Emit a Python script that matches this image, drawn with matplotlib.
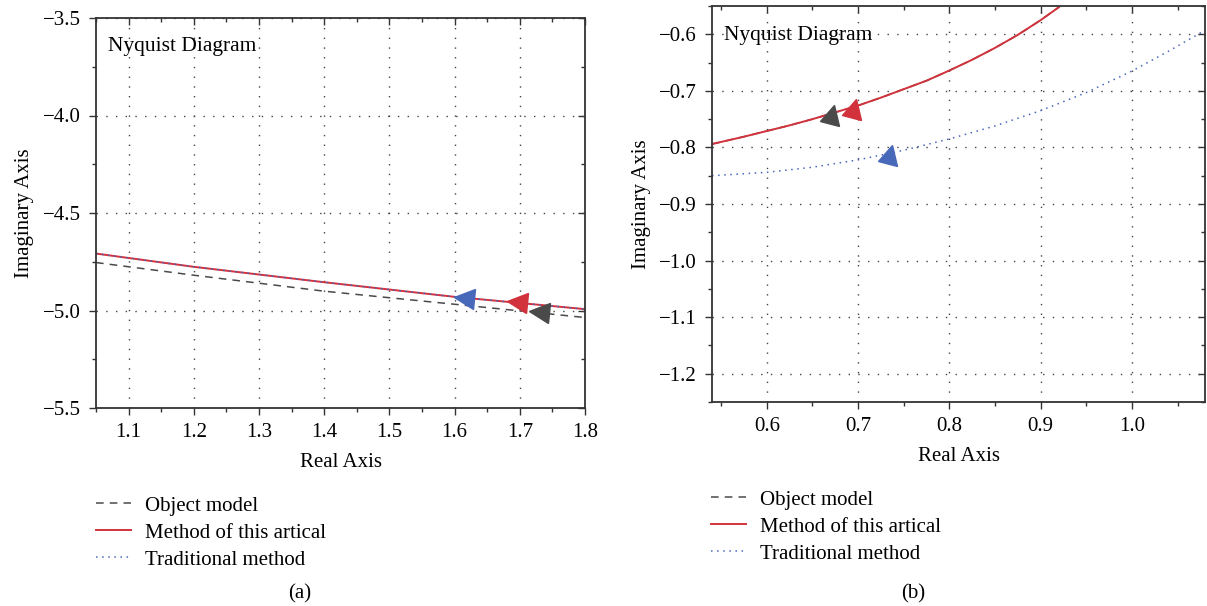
import numpy as np
import matplotlib
matplotlib.use("Agg")
import matplotlib.pyplot as plt
from matplotlib.markers import MarkerStyle
from matplotlib.transforms import Affine2D
from matplotlib.ticker import MultipleLocator, FuncFormatter

plt.rcParams["font.family"] = ["Liberation Serif", "DejaVu Serif"]

# ── data ───────────────────────────────────────────────────────────────────
# panel (a)
a_x_obj = [1.05, 1.2, 1.4, 1.6, 1.8]
a_y_obj = [-4.754, -4.819, -4.901, -4.968, -5.036]
a_x_new = [1.05, 1.2, 1.4, 1.6, 1.8]
a_y_new = [-4.708, -4.776, -4.855, -4.930, -4.993]
a_x_trad = a_x_new
a_y_trad = a_y_new
a_arrows = [(1.615, -4.935, "trad"), (1.695, -4.958, "new"), (1.73, -5.008, "obj")]

# panel (b)
b_x_new = [0.54, 0.575, 0.6, 0.625, 0.65, 0.675, 0.7, 0.725, 0.75, 0.775,
           0.8, 0.825, 0.85, 0.875, 0.9, 0.92]
b_y_new = [-0.794, -0.781, -0.771, -0.761, -0.750, -0.738, -0.726, -0.712, -0.697, -0.682,
           -0.664, -0.645, -0.624, -0.601, -0.575, -0.552]
b_x_obj = b_x_new
b_y_obj = b_y_new
b_x_trad = [0.54, 0.6, 0.65, 0.7, 0.75, 0.8, 0.85, 0.9, 0.95, 1.0, 1.04, 1.08]
b_y_trad = [-0.850, -0.844, -0.835, -0.822, -0.805, -0.785, -0.762, -0.735, -0.703, -0.665,
            -0.630, -0.593]
b_arrows = [(0.671, -0.741, "obj"), (0.695, -0.730, "new"), (0.735, -0.811, "trad")]

labels = {"obj": "Object model", "new": "Method of this artical", "trad": "Traditional method"}
colors = {"obj": "#4a4a4a", "new": "#d2323c", "trad": "#4869b9"}

FS = 15


def minus_fmt(v, pos):
    return f"{v:.1f}".replace("-", "\u2212")


def style_axes(ax, xmaj, xmin_, ymaj, ymin_):
    ax.xaxis.set_major_locator(MultipleLocator(xmaj))
    ax.xaxis.set_minor_locator(MultipleLocator(xmin_))
    ax.yaxis.set_major_locator(MultipleLocator(ymaj))
    ax.yaxis.set_minor_locator(MultipleLocator(ymin_))
    ax.xaxis.set_major_formatter(FuncFormatter(minus_fmt))
    ax.yaxis.set_major_formatter(FuncFormatter(minus_fmt))
    ax.tick_params(which="both", direction="out", labelsize=FS, color="#333333", pad=6)
    ax.tick_params(which="major", length=5, width=1)
    ax.tick_params(which="minor", length=3, width=1)
    # inward ticks on top and right
    top = ax.secondary_xaxis("top")
    right = ax.secondary_yaxis("right")
    for sec, axis in [(top, top.xaxis), (right, right.yaxis)]:
        axis.set_major_locator(MultipleLocator(xmaj if sec is top else ymaj))
        axis.set_minor_locator(MultipleLocator(xmin_ if sec is top else ymin_))
        sec.tick_params(which="both", direction="in", labelsize=0, color="#333333")
        sec.tick_params(which="major", length=5, width=1)
        sec.tick_params(which="minor", length=3, width=1)
        axis.set_major_formatter(FuncFormatter(lambda v, p: ""))
        for s in sec.spines.values():
            s.set_visible(False)
    for s in ax.spines.values():
        s.set_linewidth(1.3)
        s.set_color("#333333")
    ax.grid(True, which="major", linestyle=(0, (1, 6)), color="#444444", linewidth=1.0)
    ax.set_xlabel("Real Axis", fontsize=FS, labelpad=8)
    ax.set_ylabel("Imaginary Axis", fontsize=FS, labelpad=6)
    ax.text(0.025, 0.926, "Nyquist Diagram", transform=ax.transAxes,
            fontsize=15.5, va="center", ha="left")


def draw_panel(ax, xo, yo, xn, yn, xt, yt, arrows, angle):
    ax.plot(xo, yo, linestyle=(0, (5, 4)), color=colors["obj"], lw=1.1, label=labels["obj"])
    ax.plot(xn, yn, "-", color=colors["new"], lw=1.4, label=labels["new"])
    ax.plot(xt, yt, linestyle=(0, (1, 3)), color=colors["trad"], lw=1.1, label=labels["trad"])
    for x, y, k in arrows:
        m = MarkerStyle(">", transform=Affine2D().rotate_deg(angle))
        ax.plot([x], [y], marker=m, markersize=14, color=colors[k], mec=colors[k], ls="none")


fig = plt.figure(figsize=(12.07, 6.06), dpi=100)

ax1 = fig.add_axes([96 / 1207, 1 - 408 / 606, 489 / 1207, 390 / 606])
draw_panel(ax1, a_x_obj, a_y_obj, a_x_new, a_y_new, a_x_trad, a_y_trad, a_arrows, 174)
ax1.set_xlim(1.05, 1.8)
ax1.set_ylim(-5.5, -3.5)
style_axes(ax1, 0.1, 0.05, 0.5, 0.25)

ax2 = fig.add_axes([712 / 1207, 1 - 402 / 606, 493 / 1207, 396 / 606])
draw_panel(ax2, b_x_obj, b_y_obj, b_x_new, b_y_new, b_x_trad, b_y_trad, b_arrows, 76)
ax2.set_xlim(0.54, 1.08)
ax2.set_ylim(-1.25, -0.55)
style_axes(ax2, 0.1, 0.05, 0.1, 0.05)

# legends below each panel (line samples only)
for ax, (lx, ly) in [(ax1, (96 / 1207, 1 - 496 / 606)), (ax2, (711 / 1207, 1 - 490 / 606))]:
    handles = ax.get_lines()[:3]
    fig.legend(handles, [labels["obj"], labels["new"], labels["trad"]],
               loc="upper left", bbox_to_anchor=(lx, ly), frameon=False,
               fontsize=FS, handlelength=1.7, handletextpad=0.65,
               labelspacing=0.36, borderaxespad=0, borderpad=0)

fig.text(300 / 1207, 1 - 594 / 606, "(a)", fontsize=FS, ha="center", va="center")
fig.text(913 / 1207, 1 - 594 / 606, "(b)", fontsize=FS, ha="center", va="center")

fig.savefig("out.png", dpi=100)
